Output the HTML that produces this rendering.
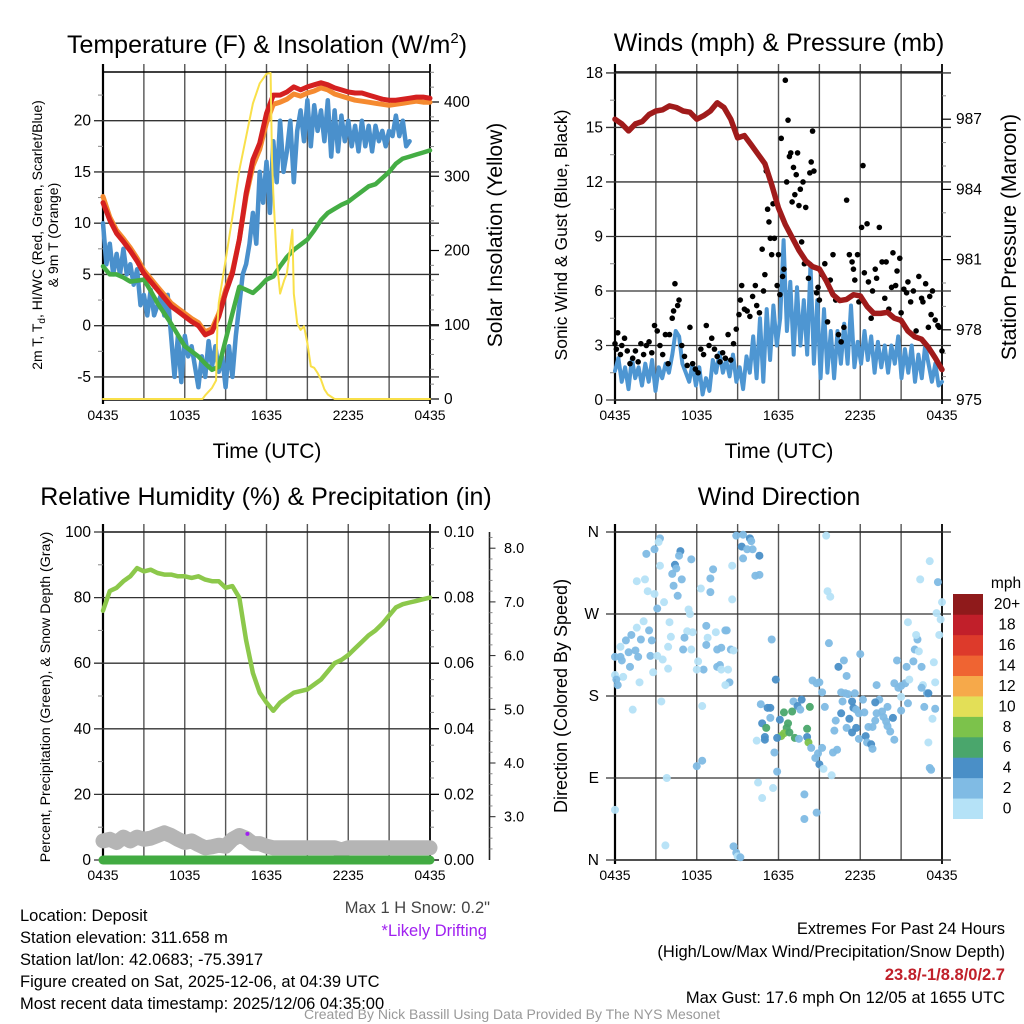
<!DOCTYPE html>
<html><head><meta charset="utf-8"><style>
html,body{margin:0;padding:0;background:#fff}
svg{display:block;font-family:"Liberation Sans",sans-serif}
</style></head><body>
<svg id="fig" width="1024" height="1024" viewBox="0 0 1024 1024" xmlns="http://www.w3.org/2000/svg">
<rect width="1024" height="1024" fill="#fff"/>
<text x="267" y="53" font-size="25" text-anchor="middle">Temperature (F) &amp; Insolation (W/m<tspan font-size="15" dy="-10">2</tspan><tspan dy="10">)</tspan></text>
<text x="779" y="51" font-size="25" text-anchor="middle">Winds (mph) &amp; Pressure (mb)</text>
<text x="266" y="505" font-size="25" text-anchor="middle">Relative Humidity (%) &amp; Precipitation (in)</text>
<text x="779" y="505" font-size="25" text-anchor="middle">Wind Direction</text>
<text x="267" y="458" font-size="21" text-anchor="middle">Time (UTC)</text>
<text x="779" y="458" font-size="21" text-anchor="middle">Time (UTC)</text>
<text transform="translate(42,235) rotate(-90)" font-size="14" text-anchor="middle">2m T, T<tspan font-size="10" dy="3">d</tspan><tspan dy="-3">, HI/WC (Red, Green, Scarlet/Blue)</tspan></text>
<text transform="translate(58,235) rotate(-90)" font-size="14" text-anchor="middle">&amp; 9m T (Orange)</text>
<text transform="translate(502,235) rotate(-90)" font-size="21" text-anchor="middle">Solar Insolation (Yellow)</text>
<text transform="translate(567,235) rotate(-90)" font-size="17.5" text-anchor="middle">Sonic Wind &amp; Gust (Blue, Black)</text>
<text transform="translate(1016,237) rotate(-90)" font-size="21" text-anchor="middle">Station Pressure (Maroon)</text>
<text transform="translate(50,697) rotate(-90)" font-size="14.2" text-anchor="middle">Percent, Precipitation (Green), &amp; Snow Depth (Gray)</text>
<text transform="translate(567,696) rotate(-90)" font-size="18" text-anchor="middle">Direction (Colored By Speed)</text>
<g font-size="16.5" fill="#000">
<text x="20" y="921">Location: Deposit</text>
<text x="20" y="943">Station elevation: 311.658 m</text>
<text x="20" y="965">Station lat/lon: 42.0683; -75.3917</text>
<text x="20" y="987">Figure created on Sat, 2025-12-06, at 04:39 UTC</text>
<text x="20" y="1009">Most recent data timestamp: 2025/12/06 04:35:00</text>
<text x="490" y="913" text-anchor="end" fill="#444">Max 1 H Snow: 0.2"</text>
<text x="487" y="936" text-anchor="end" fill="#a020f0">*Likely Drifting</text>
<text x="1005" y="934" text-anchor="end">Extremes For Past 24 Hours</text>
<text x="1005" y="957" text-anchor="end">(High/Low/Max Wind/Precipitation/Snow Depth)</text>
<text x="1005" y="980" text-anchor="end" fill="#c0202a" font-weight="bold">23.8/-1/8.8/0/2.7</text>
<text x="1005" y="1003" text-anchor="end">Max Gust: 17.6 mph On 12/05 at 1655 UTC</text>
</g>
<text x="512" y="1019" font-size="14" text-anchor="middle" fill="#999">Created By Nick Bassill Using Data Provided By The NYS Mesonet</text>
<g id="layer"></g>
</svg>
<script>
// ---------- data ----------
const xTickLabels = ["0435","1035","1635","2235","0435"];
const tempRed = [12,10.3,9,8.2,7.3,6.3,5.1,4.3,3.5,2.7,1.9,1.4,0.9,0.4,0,-0.9,-0.6,0.9,3.2,5.1,8.4,12.9,16.2,17.8,20.7,22.5,22.5,22.8,23.3,23.0,23.3,23.5,23.7,23.5,23.2,23.0,22.8,22.7,22.7,22.5,22.3,22.1,22.0,22.0,22.1,22.2,22.3,22.3,22.2];
const temp9m = [12.6,10.6,9.3,8.5,7.6,6.6,5.4,4.6,3.8,3.0,2.2,1.7,1.2,0.7,0.3,-0.6,-0.3,1.2,3.5,5.3,8.4,12.6,15.6,17.2,19.8,21.6,21.8,22.1,22.6,22.4,22.7,22.9,23.2,23.0,22.6,22.4,22.2,22.0,21.9,21.8,21.7,21.6,21.5,21.6,21.7,21.8,21.9,21.8,21.8];
const dewpoint = [5.8,5.0,5.0,4.7,4.3,4.4,4.5,3.4,2.2,1.2,0.2,-0.9,-2.0,-2.5,-3.0,-3.7,-4.3,-4.0,-1.4,1.2,3.8,3.5,3.2,3.8,4.5,4.8,5.8,6.7,7.4,7.9,8.4,9.3,10.3,11.0,11.4,11.8,12.1,12.6,13.1,13.6,13.8,14.4,15.0,15.8,16.3,16.5,16.7,16.9,17.1];
const windChill = [10,6,8,5,7,5,7.5,5,6,4,5.5,2,3,1,3.5,1,2,3,1,3,-1,-5,-1,-5.5,-1,-3,-2,-4,-6,-3,-5,-1.5,-4,-2,-4.5,-3,-6,-2,-5,-1,2,5,6,8,11,8,15,12,16,11,18,14,20,15,17,20,14,19,21,18,22,17.5,21.5,19,21,18,22,16.5,21,17,20.5,18,20,17.5,19.5,17,20,17.5,19.5,17,19.5,18,19,17.5,19,18.5,20.5,18.5,20,17.5,18];
const windChillEndHour = 22.5;
const solarHours = [0,7.3,7.5,8,8.3,8.4,8.5,9,9.5,10,10.5,11,11.5,12,12.3,12.4,12.5,12.75,13,13.3,13.5,13.75,13.9,14,14.25,14.5,14.75,15,15.25,15.5,15.75,16,16.25,16.5,17,24];
const solarValues = [0,0,5,15,25,100,130,187,245,308,353,398,425,438,439,322,277,187,142,160,169,205,228,142,102,93,98,75,44,42,35,26,13,6,0,0];
const pressure = [987.0,986.8,986.5,986.8,986.9,987.2,987.35,987.4,987.57,987.5,987.35,987.3,987.0,987.15,987.35,987.7,987.5,987.0,986.2,986.3,985.9,985.5,985.1,984.2,983.2,982.5,981.95,981.4,980.95,980.7,980.6,980.1,979.5,979.25,979.3,979.5,979.45,979.0,978.7,978.7,978.75,978.5,978.4,977.95,977.7,977.6,977.25,976.8,976.3];
const windSpeed = [1.6,2.3,1.0,1.8,0.6,2.3,1.2,1.8,0.8,2.0,1.0,2.2,0.5,1.8,1.2,2.0,1.5,2.5,3.8,3.5,2.0,1.5,1.0,2.0,0.8,1.8,0.3,1.2,0.5,2.2,1.5,2.6,1.5,2.2,1.3,2.5,1.0,1.8,0.6,2.4,1.5,3.5,1.2,4.5,1.0,5.0,2.2,5.2,3.0,4.5,8.8,3.8,6.5,2.5,6.2,3.0,5.5,2.5,7.5,2.0,5.5,1.2,5.0,1.5,3.8,1.2,3.8,2.0,4.2,2.0,5.2,1.8,3.2,2.0,3.8,2.2,3.5,1.5,3.2,1.8,3.0,1.5,3.0,2.0,3.5,1.2,2.8,1.5,3.0,1.0,2.5,1.2,3.0,2.0,1.0,2.0,0.8,1.0];
const gustHours = [0,0.1,0.2,0.4,0.5,0.7,0.9,1.1,1.3,1.5,1.7,1.9,2.1,2.3,2.5,2.7,2.9,3.1,3.3,3.5,3.7,3.9,4.0,4.2,4.3,4.4,4.6,4.7,4.9,5.1,5.3,5.5,5.7,5.9,6.1,6.3,6.5,6.7,6.9,7.1,7.3,7.5,7.7,7.9,8.1,8.3,8.5,8.7,8.9,9.1,9.2,9.3,9.5,9.7,9.9,10.1,10.3,10.4,10.6,10.8,10.9,11.0,11.1,11.2,11.3,11.4,11.5,11.6,11.7,11.9,12.0,12.1,12.2,12.3,12.4,12.5,12.6,12.7,12.8,12.9,13.0,13.1,13.2,13.3,13.4,13.5,13.6,13.7,13.8,13.9,14.0,14.2,14.3,14.4,14.5,14.6,14.8,14.9,15.0,15.2,15.4,15.6,15.8,16.0,16.2,16.4,16.6,16.8,17.0,17.2,17.4,17.5,17.6,17.8,17.9,18.1,18.2,18.3,18.5,18.6,18.8,18.9,19.1,19.2,19.4,19.6,19.8,19.9,20.1,20.3,20.4,20.6,20.7,20.9,21.0,21.2,21.4,21.5,21.7,21.9,22.1,22.3,22.5,22.6,22.8,23.0,23.1,23.2,23.3,23.5,23.7,23.8,24.0];
const gustValues = [3.1,2.8,3.7,2.5,3.0,3.4,2.7,2.0,2.3,2.7,2.1,3.1,2.5,3.0,3.2,2.6,4.1,3.8,3.0,2.5,3.6,2.0,3.6,4.5,4.9,6.4,5.2,5.5,3.0,2.4,1.9,4.0,2.0,1.7,1.5,2.8,2.5,4.1,3.0,3.4,2.8,2.4,2.1,2.6,2.3,3.6,2.2,3.1,3.9,4.7,5.5,6.3,5.0,4.9,4.6,5.7,6.3,5.2,4.8,8.3,6.0,6.9,12.6,10.5,9.8,8.9,8.0,10.8,8.9,6.3,8.0,5.8,14.4,6.8,7.2,17.6,12.0,15.4,13.4,13.6,10.9,12.8,11.3,12.4,13.6,10.7,11.6,8.7,12.0,7.5,10.6,6.7,12.5,13.1,14.8,12.6,5.9,6.2,5.5,6.9,7.5,4.3,6.6,8.0,5.5,3.6,3.2,4.0,11.0,8.0,7.6,7.2,6.6,8.0,5.4,9.5,12.9,7.0,9.7,6.5,4.5,6.0,7.2,6.7,9.5,7.6,5.6,7.6,5.0,6.2,8.1,6.3,7.1,7.8,4.8,6.1,5.9,6.5,5.4,6.0,3.8,6.8,5.6,5.4,6.4,4.0,5.7,4.7,6.0,4.4,4.1,4.0,2.7];
const rh = [76,82,83,85,86.5,89,88,88.5,87.5,87,87,86.5,86.5,86,86.5,85.5,85,85,83,83.5,80,67,57,51,48,45.5,48,49.5,51,51.5,52,53.5,55,57.5,60,61,62.5,64.5,66.5,68.5,70,72,74.5,77,78,78.5,79,79.5,80];
const precip = [0,0,0,0,0,0,0,0,0,0,0,0,0,0,0,0,0,0,0,0,0,0,0,0,0];
const snowDepth = [2.55,2.58,2.52,2.62,2.55,2.62,2.58,2.6,2.65,2.7,2.65,2.58,2.52,2.55,2.48,2.42,2.44,2.47,2.45,2.58,2.65,2.6,2.5,2.5,2.45,2.42,2.42,2.42,2.42,2.42,2.42,2.42,2.42,2.42,2.42,2.38,2.42,2.42,2.42,2.42,2.42,2.42,2.42,2.42,2.42,2.42,2.42,2.42,2.42];
const driftHour = 10.6, driftDepth = 2.68;
const dirHours = [3.3,3.2,2.9,2.3,4.8,4.7,5.6,4.4,3.3,4.5,7.2,8.6,4.2,7.0,4.9,1.6,2.2,4.3,6.3,7.0,2.4,2.9,4.6,8.6,3.6,3.1,5.4,5.5,2.1,4.0,1.6,6.7,7.4,8.1,8.2,2.5,5.3,5.7,1.2,4.1,5.1,6.8,0.8,1.9,2.7,0.4,3.9,6.7,7.8,7.5,5.0,5.6,8.5,8.7,1.0,1.5,0.0,0.4,0.5,1.7,2.6,3.1,3.5,6.1,1.1,6.5,7.5,7.7,3.9,6.0,7.8,8.3,2.8,0.0,0.6,0.1,0.2,1.8,8.4,8.1,1.3,3.4,6.4,8.9,9.4,9.9,10.0,9.3,9.7,10.1,10.6,9.4,10.3,10.6,15.5,15.6,15.8,11.5,11.8,15.7,18.0,16.8,16.4,17.0,14.5,14.8,15.0,15.2,10.7,11.2,11.4,12.4,13.0,13.7,13.1,14.3,13.4,13.6,12.1,11.4,10.8,11.1,12.7,12.6,12.4,12.8,12.2,13.2,13.5,14.1,14.1,14.2,11.9,11.0,11.0,10.4,11.7,11.9,14.4,14.7,14.9,15.0,15.2,15.3,15.9,16.0,16.3,15.4,16.6,16.7,16.9,17.1,17.4,17.6,17.5,17.7,18.2,16.6,17.2,17.9,18.3,16.2,16.1,17.0,17.4,17.7,17.9,18.4,18.6,18.9,18.5,18.8,18.9,19.2,19.4,19.1,19.2,19.6,20.0,19.7,19.9,20.4,20.0,20.2,20.5,19.1,20.7,20.5,20.8,21.0,21.4,21.0,21.0,21.5,21.3,21.6,21.9,22.0,22.2,22.3,22.5,22.6,22.5,22.9,23.0,22.7,23.5,23.3,23.5,23.4,23.0,23.1,23.2,21.5,22.1,22.4,23.1,23.7,24.0,23.6,23.9,23.8,10.5,11.6,10.8,13.9,14.8,13.9,6.4,6.0,3.8,0.0,3.7,8.7,8.9,9.0,9.2];
const dirValues = [353,349,341,336,339,334,330,324,323,320,319,323,314,309,308,306,308,301,298,294,295,292,290,286,283,276,275,270,262,261,255,257,250,252,252,252,251,250,247,245,244,244,241,242,241,234,234,236,233,231,231,231,231,230,228,230,223,223,219,223,224,224,220,218,212,209,212,214,210,209,209,209,206,203,201,198,192,195,195,192,165,174,169,356,357,353,350,344,341,341,334,331,312,313,356,295,289,242,198,238,226,219,212,202,197,194,195,184,171,167,167,162,163,176,174,168,169,165,154,156,150,145,150,145,139,140,136,134,133,144,135,129,134,135,132,131,118,97,123,112,117,105,123,100,93,118,121,168,184,174,183,182,174,183,167,165,176,161,155,161,162,153,142,145,140,145,133,136,146,146,129,127,122,192,176,173,161,163,168,157,152,156,147,141,132,153,219,194,189,191,212,179,164,172,194,198,218,231,242,229,212,192,189,183,183,168,166,155,195,217,129,101,99,261,247,308,328,305,283,271,264,247,85,79,68,72,52,45,109,103,90,55,16,15,8,4,3];
const dirSpeeds = [3,1,3,3,5,3,3,5,1,3,3,1,3,3,3,1,1,3,1,3,1,1,3,1,1,3,1,1,1,1,1,3,1,3,3,3,1,1,3,1,3,1,3,3,3,1,1,3,3,3,3,1,3,1,3,3,3,3,3,3,3,1,1,1,3,3,3,3,1,1,1,1,1,1,1,3,3,1,3,1,1,1,1,3,3,5,3,5,3,3,5,3,3,3,1,1,1,3,5,3,3,3,5,3,3,3,3,3,3,5,5,7,7,5,3,7,5,3,5,3,5,7,7,7,8.5,7,8.5,7,3,7,5,8.5,5,5,5,1,3,3,3,3,3,5,3,1,1,3,3,3,3,3,3,3,5,3,5,3,3,5,5,3,3,3,3,3,5,5,3,5,3,3,3,5,3,3,3,5,3,3,3,3,3,5,3,3,3,3,3,3,3,3,3,1,3,3,3,1,3,3,3,1,3,1,3,3,5,3,3,1,1,1,1,3,3,1,1,1,1,3,1,1,1,1,1,1,1,3,3,3,3,3,1,1,1,3,3,1,3,3,1];
const speedBins = ["0","2","4","6","8","10","12","14","16","18","20+"];
const speedColors = ["#b5e2f7","#80bbe4","#4a8fc7","#4aa66c","#7cc24b","#e3df57","#f6a94a","#ef6432","#dd3a2b","#c11f2a","#8f1a1b"];
const dirLabels = ["N","E","S","W","N"];

// ---------- helpers ----------
const NS="http://www.w3.org/2000/svg";
const layer=document.getElementById('layer');
function mk(tag,attrs,parent){const e=document.createElementNS(NS,tag);for(const k in attrs)e.setAttribute(k,attrs[k]);(parent||layer).appendChild(e);return e;}
function P(L,T){return {L:L,T:T,W:327,H:328,x:h=>L+h*327/24};}
const p1=P(103,72), p2=P(615,72), p3=P(103,532), p4=P(615,532);
p1.yL=v=>325.7-v*10.25; p1.yR=w=>399-w*0.7425;
p2.yL=v=>400-v*18.17; p2.yR=p=>400-(p-975)*23.4;
p3.yL=v=>860-v*3.28; p3.yP=v=>860-v*3280; p3.yS=s=>816.7-(s-3)*53.7;
p4.yL=d=>860-d*328/360;

function frame(p,name){
  const g=mk('g',{});
  
  
  for(let i=1;i<8;i++){const x=p.x(i*3);mk('line',{x1:x,x2:x,y1:p.T-8,y2:p.T+p.H,stroke:'#555','stroke-width':1.4},g);}
  mk('line',{x1:p.L,x2:p.L+p.W,y1:p.T,y2:p.T,stroke:'#000','stroke-width':1.5},g);
  mk('line',{x1:p.L,x2:p.L,y1:p.T-8,y2:p.T+p.H+4,stroke:'#000','stroke-width':2.2},g);
  mk('line',{x1:p.L+p.W,x2:p.L+p.W,y1:p.T-8,y2:p.T+p.H+4,stroke:'#000','stroke-width':1.8},g);
  mk('line',{x1:p.L,x2:p.L+p.W,y1:p.T+p.H,y2:p.T+p.H,stroke:'#000','stroke-width':1.5},g);
  for(let i=0;i<5;i++){
    const t=mk('text',{x:p.x(i*6),y:p.T+p.H+20,'font-size':14,'text-anchor':'middle'});
    
    
    t.textContent=xTickLabels[i];
  }
  return g;
}
function hgrid(p,y,g,color){mk('line',{x1:p.L-9,x2:p.L+p.W+9,y1:y,y2:y,stroke:color||'#333','stroke-width':1.3},g);}
function minor(x,y,dir,g,len){mk('line',{x1:x,x2:x+dir*(len||4),y1:y,y2:y,stroke:'#888','stroke-width':1},g);}
function label(x,y,txt,anchor,g,size){const t=mk('text',{x:x,y:y+5,'font-size':size||15.5,'text-anchor':anchor},g);t.textContent=txt;return t;}
function poly(pts,attrs,name){const e=mk('polyline',Object.assign({points:pts.map(q=>q[0].toFixed(1)+','+q[1].toFixed(1)).join(' '),fill:'none','stroke-linejoin':'round','stroke-linecap':'round'},attrs));return e;}
const series=(arr,p,yf,endH)=>arr.map((v,i)=>[p.x(i*(endH||24)/(arr.length-1)),yf(v)]);

// ---------- panel 1 ----------
let g=frame(p1,'temperature');
for(let v=-5;v<=20;v+=5){hgrid(p1,p1.yL(v),g);label(p1.L-12,p1.yL(v),String(v),'end',g);}
for(let v=-2.5;v<=25;v+=5)minor(p1.L,p1.yL(v),-1,g,5);
for(let w=0;w<=400;w+=100){mk('line',{x1:p1.L+p1.W,x2:p1.L+p1.W+9,y1:p1.yR(w),y2:p1.yR(w),stroke:'#000','stroke-width':1.2},g);label(p1.L+p1.W+14,p1.yR(w),String(w),'start',g);}
for(let w=20;w<=440;w+=20)if(w%100)minor(p1.L+p1.W,p1.yR(w),1,g,4);
poly(series(windChill,p1,p1.yL,windChillEndHour),{stroke:'#4a90cc','stroke-width':4.5},'windchill-line');
poly(series(dewpoint,p1,p1.yL),{stroke:'#44ad44','stroke-width':4.5},'dewpoint-line');
poly(series(temp9m,p1,p1.yL),{stroke:'#f58a30','stroke-width':5},'temp-9m-line');
poly(series(tempRed,p1,p1.yL),{stroke:'#d42020','stroke-width':5},'temp-2m-line');
poly(solarHours.map((h,i)=>[p1.x(h),p1.yR(solarValues[i])]),{stroke:'#f9e04a','stroke-width':2},'solar-line');

// ---------- panel 2 ----------
g=frame(p2,'winds');
for(let v=0;v<=18;v+=3){hgrid(p2,p2.yL(v),g);label(p2.L-12,p2.yL(v),String(v),'end',g);}
for(let v=1.5;v<18;v+=3)minor(p2.L,p2.yL(v),-1,g,5);
for(let p=975;p<=987;p+=3){mk('line',{x1:p2.L+p2.W,x2:p2.L+p2.W+9,y1:p2.yR(p),y2:p2.yR(p),stroke:'#000','stroke-width':1.2},g);label(p2.L+p2.W+14,p2.yR(p),String(p),'start',g);}
for(let p=976;p<=988;p++)if((p-975)%3)minor(p2.L+p2.W,p2.yR(p),1,g,4);
poly(series(windSpeed,p2,p2.yL),{stroke:'#4e96d2','stroke-width':4},'wind-speed-line');
const gg=mk('g',{});


gustHours.forEach((h,i)=>{const c=mk('circle',{cx:p2.x(h),cy:p2.yL(gustValues[i]),r:2.8,fill:'#000'},gg);});
poly(series(pressure,p2,p2.yR),{stroke:'#a01b1b','stroke-width':5.5},'pressure-line');

// ---------- panel 3 ----------
g=frame(p3,'humidity');
for(let v=0;v<=100;v+=20){hgrid(p3,p3.yL(v),g);label(p3.L-12,p3.yL(v),String(v),'end',g);}
for(let v=10;v<100;v+=20)minor(p3.L,p3.yL(v),-1,g,5);
for(let i=0;i<=5;i++){const v=i*0.02;mk('line',{x1:p3.L+p3.W,x2:p3.L+p3.W+9,y1:p3.yP(v),y2:p3.yP(v),stroke:'#000','stroke-width':1.2},g);label(p3.L+p3.W+14,p3.yP(v),v.toFixed(2),'start',g);}
for(let v=0.005;v<0.1;v+=0.005)if(Math.round(v*1000)%20)minor(p3.L+p3.W,p3.yP(v),-1,g,-4);
mk('line',{x1:489.5,x2:489.5,y1:532,y2:860,stroke:'#222','stroke-width':1.6},g);
for(let s=2.4;s<=8.25;s+=0.2){const maj=Math.abs(s-Math.round(s))<0.01;mk('line',{x1:489.5,x2:489.5+(maj?6:3),y1:p3.yS(s),y2:p3.yS(s),stroke:maj?'#222':'#888','stroke-width':1},g);}
for(let s=3;s<=8;s++)label(504,p3.yS(s),s.toFixed(1),'start',g,14.5);
poly(series(snowDepth,p3,p3.yS),{stroke:'#b5b5b5','stroke-width':15},'snow-depth-line');
poly(series(precip,p3,p3.yP),{stroke:'#42ab42','stroke-width':9},'precip-line');
const dd=mk('circle',{cx:p3.x(driftHour),cy:p3.yS(driftDepth),r:2,fill:'#a020f0'});


poly(series(rh,p3,p3.yL),{stroke:'#8cc84b','stroke-width':4.5},'rh-line');

// ---------- panel 4 ----------
g=frame(p4,'direction');
for(let i=0;i<=4;i++){hgrid(p4,p4.yL(i*90),g);label(p4.L-16,p4.yL(i*90),dirLabels[i],'end',g);}
const sg=mk('g',{});


function colorFor(s){let k=Math.min(10,Math.floor(s/2));return speedColors[k];}
dirHours.forEach((h,i)=>{const c=mk('circle',{cx:p4.x(h),cy:p4.yL(dirValues[i]),r:4,fill:colorFor(dirSpeeds[i]),opacity:0.95},sg);});
const cb=mk('g',{});


const t0=mk('text',{x:1006,y:588,'font-size':15.5,'text-anchor':'middle'},cb);t0.textContent='mph';
const bh=224.7/speedBins.length;
speedBins.forEach((b,i)=>{const y=818.7-(i+1)*bh;
  const r=mk('rect',{x:953,y:y,width:30,height:bh+0.3,fill:speedColors[i]},cb);
  
  
  const t=mk('text',{x:1007,y:y+bh/2+5,'font-size':15.5,'text-anchor':'middle'},cb);
  
  
  t.textContent=b;});
</script>
</body></html>
